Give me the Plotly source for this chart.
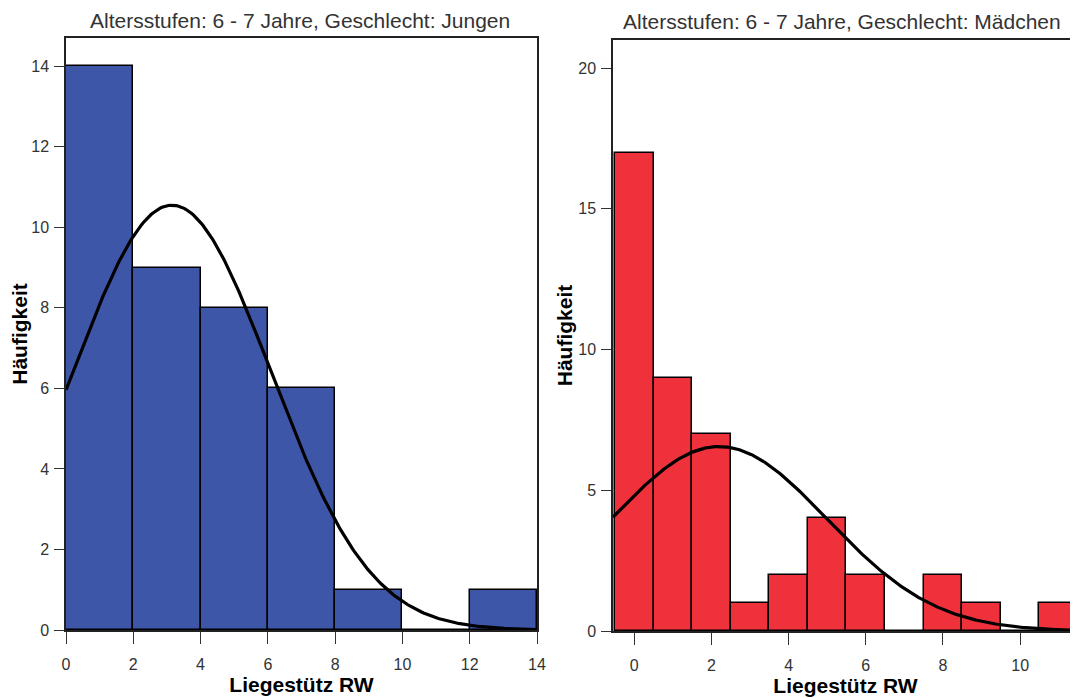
import numpy as np
import plotly.graph_objects as go

# ---- data ----
boys_bin_centers = [1, 3, 5, 7, 9, 11, 13]
boys_counts = [14, 9, 8, 6, 1, 0, 1]
boys_bin_width = 2
boys_mean, boys_sd = 3.15, 2.95

girls_bin_centers = [0, 1, 2, 3, 4, 5, 6, 7, 8, 9, 10, 11]
girls_counts = [17, 9, 7, 1, 2, 4, 2, 0, 2, 1, 0, 1]
girls_bin_width = 1
girls_mean, girls_sd = 2.2, 2.80

boys_xticks = [0, 2, 4, 6, 8, 10, 12, 14]
boys_yticks = [0, 2, 4, 6, 8, 10, 12, 14]
girls_xticks = [0, 2, 4, 6, 8, 10]
girls_yticks = [0, 5, 10, 15, 20]

title_boys = "Altersstufen: 6 - 7 Jahre, Geschlecht: Jungen"
title_girls = "Altersstufen: 6 - 7 Jahre, Geschlecht: Mädchen"
x_title = "Liegestütz RW"
y_title = "Häufigkeit"

BLUE = "rgb(61,86,168)"
RED = "rgb(238,49,58)"
FONT = "Liberation Sans, Arial, sans-serif"

# page has an 8px body margin; figure sized to fit the 1078x698 window
OFF = 8
W, H = 1078 - OFF, 698 - OFF


def px(sx):
    return (sx - OFF) / W


def py(sy):
    return 1 - (sy - OFF) / H


def normal_curve(counts, width, mean, sd, lo, hi):
    n = sum(counts)
    xs = np.linspace(lo, hi, 300)
    ys = n * width / (sd * np.sqrt(2 * np.pi)) * np.exp(-((xs - mean) ** 2) / (2 * sd ** 2))
    return xs, ys


fig = go.Figure()

fig.add_trace(go.Bar(
    x=boys_bin_centers, y=boys_counts, width=boys_bin_width,
    marker=dict(color=BLUE, line=dict(color="black", width=1.5)),
    xaxis="x", yaxis="y", showlegend=False,
))
bx, by = normal_curve(boys_counts, boys_bin_width, boys_mean, boys_sd, 0, 14)
fig.add_trace(go.Scatter(x=bx, y=by, mode="lines", line=dict(color="black", width=3.2),
                         xaxis="x", yaxis="y", showlegend=False))

fig.add_trace(go.Bar(
    x=girls_bin_centers, y=girls_counts, width=girls_bin_width,
    marker=dict(color=RED, line=dict(color="black", width=1.5)),
    xaxis="x2", yaxis="y2", showlegend=False,
))
gx, gy = normal_curve(girls_counts, girls_bin_width, girls_mean, girls_sd, -0.55, 11.6)
fig.add_trace(go.Scatter(x=gx, y=gy, mode="lines", line=dict(color="black", width=3.2),
                         xaxis="x2", yaxis="y2", showlegend=False))

axis_common = dict(
    showline=True, linecolor="#222", linewidth=1.5, mirror=True,
    showgrid=False, zeroline=False, ticks="outside", tickcolor="#333",
    tickfont=dict(family=FONT, size=16, color="#333"), automargin=False,
)
title_font = dict(family=FONT, size=21, color="black", weight="bold")

fig.update_layout(
    width=W, height=H,
    margin=dict(l=0, r=0, t=0, b=0, autoexpand=False),
    paper_bgcolor="white", plot_bgcolor="white",
    bargap=0,
    xaxis=dict(axis_common, domain=[px(66), px(537)], range=[0, 14],
               tickvals=boys_xticks, ticklen=12, ticklabelstandoff=7,
               title=dict(text=x_title, font=title_font, standoff=2), anchor="y"),
    yaxis=dict(axis_common, domain=[py(630), py(38)], range=[0, 14.7],
               tickvals=boys_yticks, ticklen=10, ticklabelstandoff=2,
               title=dict(text=y_title, font=title_font, standoff=0), anchor="x"),
    xaxis2=dict(axis_common, domain=[px(613), 1.0], range=[-0.55, 11.5],
                tickvals=girls_xticks, ticklen=12, ticklabelstandoff=7,
                title=dict(text=x_title, font=title_font, standoff=2), anchor="y2"),
    yaxis2=dict(axis_common, domain=[py(631), py(40)], range=[0, 21],
                tickvals=girls_yticks, ticklen=10, ticklabelstandoff=2,
                title=dict(text=y_title, font=title_font, standoff=0), anchor="x2"),
    annotations=[
        dict(text=title_boys, x=px(300), y=py(20), xref="paper", yref="paper",
             showarrow=False, xanchor="center", yanchor="middle",
             font=dict(family=FONT, size=21, color="#333")),
        dict(text=title_girls, x=px(842), y=py(22), xref="paper", yref="paper",
             showarrow=False, xanchor="center", yanchor="middle",
             font=dict(family=FONT, size=21, color="#333")),
    ],
)

fig.write_html("out.html")
